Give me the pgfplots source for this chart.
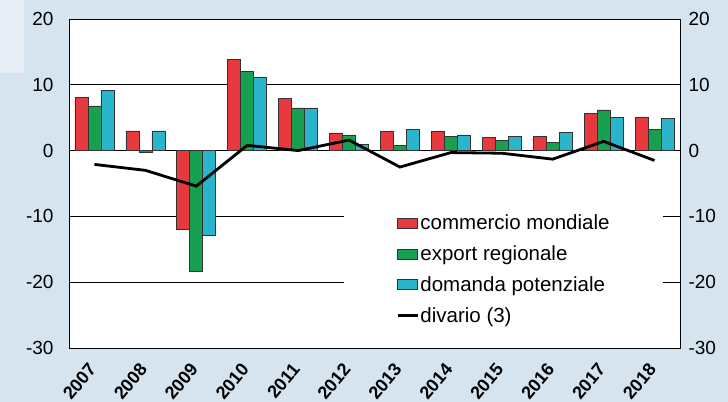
\documentclass[border=0pt]{standalone}
\usepackage{pgfplots}
\pgfplotsset{compat=1.18}
\usepackage{fontspec}
\setmainfont{Liberation Sans}
\definecolor{cred}{HTML}{E8393F}
\definecolor{cgreen}{HTML}{17A050}
\definecolor{ccyan}{HTML}{2AB5CC}
\definecolor{bgc}{HTML}{D5E4EF}
\definecolor{bgl}{HTML}{E6EDF5}
\begin{document}
\begin{tikzpicture}
\fill[bgc] (-69bp,-54bp) rectangle (659bp,348bp);
\fill[bgl] (-69bp,275bp) rectangle (-45bp,348bp);
\begin{axis}[
  at={(0,0)}, anchor=south west,
  scale only axis, width=611bp, height=329bp,
  xmin=-0.5, xmax=11.5, ymin=-30, ymax=20,
  ytick={-30,-20,...,20},
  xtick={0,...,11},
  xticklabels={2007,2008,2009,2010,2011,2012,2013,2014,2015,2016,2017,2018},
  major tick length=0pt,
  ymajorgrids, grid style={black, line width=0.6bp},
  axis line style={black, line width=0.8bp},
  axis background/.style={fill=white},
  /pgf/number format/assume math mode=true,
  yticklabel style={font=\fontsize{19bp}{22bp}\selectfont, xshift=-12bp},
  x tick label style={font=\bfseries\fontsize{18bp}{20bp}\selectfont, rotate=50, anchor=east, inner sep=0pt, xshift=-15bp, yshift=-10bp},
  legend style={at={(0.450,0.239)}, anchor=west, fill=white, draw=none,
    inner xsep=52bp, inner ysep=10bp, font=\fontsize{20.5bp}{23bp}\selectfont,
    row sep=12.5bp, nodes={inner xsep=1.5bp, inner ysep=1bp}},
  legend cell align=left,
]
\addplot[ybar, bar width=13bp, bar shift=-13bp, fill=cred, draw=black!80, line width=0.6bp,
  legend image code/.code={\draw[draw=black!80, fill=cred, line width=0.6bp] (0bp,-5bp) rectangle (20bp,5bp);}]
  coordinates {(0,8.1) (1,3.0) (2,-12.0) (3,13.9) (4,7.9) (5,2.7) (6,2.9) (7,2.9) (8,2.0) (9,2.2) (10,5.6) (11,5.1)};
\addlegendentry{commercio mondiale}
\addplot[ybar, bar width=13bp, bar shift=0bp, fill=cgreen, draw=black!80, line width=0.6bp,
  legend image code/.code={\draw[draw=black!80, fill=cgreen, line width=0.6bp] (0bp,-5bp) rectangle (20bp,5bp);}]
  coordinates {(0,6.8) (1,-0.25) (2,-18.3) (3,12.0) (4,6.5) (5,2.4) (6,0.8) (7,2.2) (8,1.5) (9,1.3) (10,6.2) (11,3.2)};
\addlegendentry{export regionale}
\addplot[ybar, bar width=13bp, bar shift=13bp, fill=ccyan, draw=black!80, line width=0.6bp,
  legend image code/.code={\draw[draw=black!80, fill=ccyan, line width=0.6bp] (0bp,-5bp) rectangle (20bp,5bp);}]
  coordinates {(0,9.2) (1,3.0) (2,-12.9) (3,11.1) (4,6.5) (5,1.0) (6,3.2) (7,2.4) (8,2.2) (9,2.8) (10,5.1) (11,4.9)};
\addlegendentry{domanda potenziale}
\addplot[black, line width=2.8bp, sharp plot, mark=none,
  legend image code/.code={\draw[black, line width=2.8bp] (0bp,0bp) -- (20bp,0bp);}]
  coordinates {(0,-2.1) (1,-3.0) (2,-5.4) (3,0.8) (4,0.0) (5,1.6) (6,-2.5) (7,-0.3) (8,-0.4) (9,-1.3) (10,1.4) (11,-1.5)};
\addlegendentry{divario (3)}
\end{axis}
\begin{axis}[
  at={(0,0)}, anchor=south west,
  scale only axis, width=611bp, height=329bp,
  xmin=-0.5, xmax=11.5, ymin=-30, ymax=20,
  ytick={-30,-20,...,20},
  axis y line*=right, axis x line=none,
  major tick length=0pt,
  axis line style={black, line width=0.8bp},
  /pgf/number format/assume math mode=true,
  yticklabel style={font=\fontsize{19bp}{22bp}\selectfont, anchor=west, xshift=5bp},
]
\addplot[draw=none] coordinates {(0,0)};
\end{axis}
\pgfresetboundingbox
\useasboundingbox (-69bp,-54bp) rectangle (659bp,348bp);
\end{tikzpicture}
\end{document}
